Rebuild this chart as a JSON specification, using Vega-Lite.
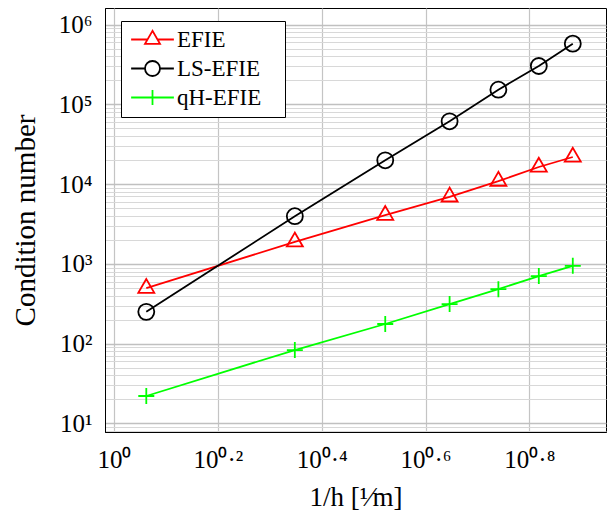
{
  "$schema": "https://vega.github.io/schema/vega-lite/v6.json",
  "width": 501,
  "height": 424,
  "autosize": "none",
  "padding": {"left": 105, "top": 8, "right": 1, "bottom": 87},
  "background": "white",
  "config": {
    "view": {"stroke": "black", "strokeWidth": 1},
    "font": "Liberation Serif",
    "axis": {
      "labelFont": "Liberation Serif",
      "titleFont": "Liberation Serif",
      "labelColor": "black",
      "titleColor": "black",
      "titleFontWeight": "normal",
      "domainColor": "black",
      "domainWidth": 1,
      "labelFlush": false,
      "labelOverlap": false,
      "ticks": false
    }
  },
  "data": {
    "values": [
      {"series": "EFIE", "inv_h": 1.154, "cond": 495},
      {"series": "EFIE", "inv_h": 2.23, "cond": 1890},
      {"series": "EFIE", "inv_h": 3.33, "cond": 4080},
      {"series": "EFIE", "inv_h": 4.43, "cond": 6920},
      {"series": "EFIE", "inv_h": 5.5, "cond": 10900},
      {"series": "EFIE", "inv_h": 6.58, "cond": 16400},
      {"series": "EFIE", "inv_h": 7.65, "cond": 21900},
      {"series": "LS-EFIE", "inv_h": 1.154, "cond": 250},
      {"series": "LS-EFIE", "inv_h": 2.23, "cond": 3960},
      {"series": "LS-EFIE", "inv_h": 3.33, "cond": 19900},
      {"series": "LS-EFIE", "inv_h": 4.43, "cond": 61400},
      {"series": "LS-EFIE", "inv_h": 5.5, "cond": 153000},
      {"series": "LS-EFIE", "inv_h": 6.58, "cond": 303000},
      {"series": "LS-EFIE", "inv_h": 7.65, "cond": 578000},
      {"series": "qH-EFIE", "inv_h": 1.154, "cond": 22},
      {"series": "qH-EFIE", "inv_h": 2.23, "cond": 83},
      {"series": "qH-EFIE", "inv_h": 3.33, "cond": 176},
      {"series": "qH-EFIE", "inv_h": 4.43, "cond": 313},
      {"series": "qH-EFIE", "inv_h": 5.5, "cond": 482},
      {"series": "qH-EFIE", "inv_h": 6.58, "cond": 702},
      {"series": "qH-EFIE", "inv_h": 7.65, "cond": 944}
    ]
  },
  "encoding": {
    "x": {
      "field": "inv_h",
      "type": "quantitative",
      "scale": {"type": "log", "domain": [0.9609, 8.864], "nice": false},
      "axis": {
        "title": "1/h [¹⁄m]",
        "values": [1, 1.584893, 2.511886, 3.981072, 6.309573],
        "labelExpr": "['10⁰','10⁰·²','10⁰·⁴','10⁰·⁶','10⁰·⁸'][round(log(datum.value)/LN10*5)]",
        "grid": true,
        "gridColor": "#c4c4c4",
        "gridWidth": 1.2,
        "labelPadding": 15,
        "labelFontSize": 25,
        "titleFontSize": 27,
        "titlePadding": 12
      }
    },
    "y": {
      "field": "cond",
      "type": "quantitative",
      "scale": {"type": "log", "domain": [7.78, 1619000], "nice": false},
      "axis": {
        "title": "Condition number",
        "values": [8, 9, 10, 20, 30, 40, 50, 60, 70, 80, 90, 100, 200, 300, 400, 500, 600, 700, 800, 900, 1000, 2000, 3000, 4000, 5000, 6000, 7000, 8000, 9000, 10000, 20000, 30000, 40000, 50000, 60000, 70000, 80000, 90000, 100000, 200000, 300000, 400000, 500000, 600000, 700000, 800000, 900000, 1000000],
        "labelExpr": "abs(log(datum.value)/LN10 - round(log(datum.value)/LN10)) < 0.01 ? '10' + ['⁰','¹','²','³','⁴','⁵','⁶'][round(log(datum.value)/LN10)] : ''",
        "grid": true,
        "gridColor": {"condition": {"test": "abs(log(datum.value)/LN10 - round(log(datum.value)/LN10)) < 0.01", "value": "#c0c0c0"}, "value": "#d8d8d8"},
        "gridWidth": {"condition": {"test": "abs(log(datum.value)/LN10 - round(log(datum.value)/LN10)) < 0.01", "value": 1.4}, "value": 1},
        "labelPadding": 13,
        "labelFontSize": 25,
        "labelBaseline": "middle",
        "titleFontSize": 29,
        "titlePadding": 18
      }
    },
    "color": {
      "field": "series",
      "type": "nominal",
      "scale": {"domain": ["EFIE", "LS-EFIE", "qH-EFIE"], "range": ["#ff0000", "#000000", "#00ff00"]},
      "legend": {
        "title": null,
        "orient": "none",
        "legendX": 16,
        "legendY": 13,
        "direction": "vertical",
        "fillColor": "white",
        "strokeColor": "black",
        "padding": 7,
        "cornerRadius": 0,
        "symbolSize": 225,
        "symbolStrokeWidth": 1.8,
        "symbolFillColor": "white",
        "symbolOffset": 13,
        "labelOffset": 13,
        "labelFontSize": 23,
        "labelFont": "Liberation Serif",
        "labelColor": "black",
        "rowPadding": 5,
        "labelExpr": "datum.label + '\u00a0\u00a0\u2009\u200b'",
        "encoding": {
          "symbols": {
            "shape": {"value": {"expr": "datum.value === 'EFIE' ? 'M-2.85,0H-0.667M0.667,0H2.85M0,-1.155L-1,0.577L1,0.577Z' : datum.value === 'LS-EFIE' ? 'M-2.85,0H-1M1,0H2.85M1,0A1,1,0,1,1,-1,0A1,1,0,1,1,1,0Z' : 'M-2.85,0H2.85M0,-1V1'"}}
          }
        }
      }
    }
  },
  "layer": [
    {
      "mark": {"type": "line", "strokeWidth": 1.8}
    },
    {
      "transform": [{"filter": "datum.series === 'EFIE'"}],
      "mark": {"type": "point", "filled": false, "size": 256, "strokeWidth": 1.8, "opacity": 1, "shape": "M0,-1.155L-1,0.577L1,0.577Z"}
    },
    {
      "transform": [{"filter": "datum.series === 'LS-EFIE'"}],
      "mark": {"type": "point", "filled": false, "size": 256, "strokeWidth": 1.8, "opacity": 1, "shape": "M1,0A1,1,0,1,1,-1,0A1,1,0,1,1,1,0Z"}
    },
    {
      "transform": [{"filter": "datum.series === 'qH-EFIE'"}],
      "mark": {"type": "point", "filled": false, "size": 256, "strokeWidth": 1.8, "opacity": 1, "shape": "M-1,0H1M0,-1V1"}
    }
  ]
}
